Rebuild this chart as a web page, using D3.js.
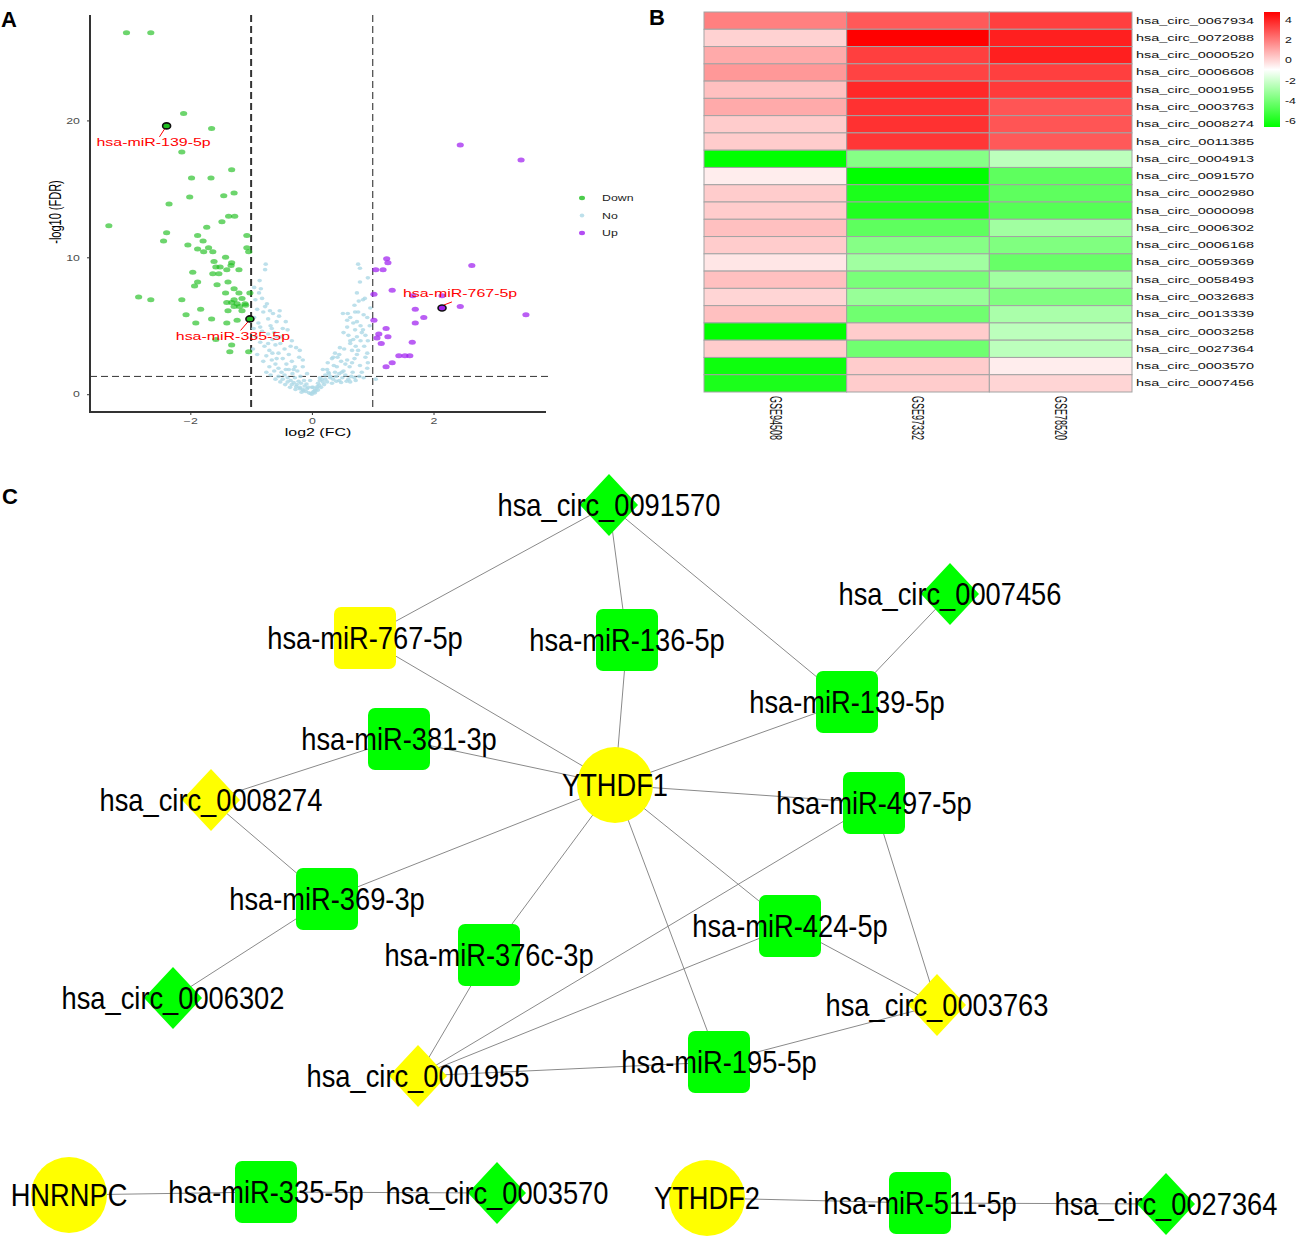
<!DOCTYPE html>
<html>
<head>
<meta charset="utf-8">
<title>Volcano, heatmap and ceRNA network</title>
<script src="https://d3js.org/d3.v7.min.js"></script>
<style>
body { margin: 0; background: #fff; }
svg text { font-family: "Liberation Sans", Arial, sans-serif; }
</style>
</head>
<body>
<div id="chart"></div>
<script>
// ---------- Panel A data: [log2FC, -log10 FDR] ----------
const downPts = [[-3.05,26.4],[-2.65,26.4],[-2.11,20.5],[-1.65,19.4],[-2.14,17.7],[-1.32,16.4],[-1.98,15.8],[-1.66,15.8],[-2.35,13.9],[-2.01,14.4],[-1.45,14.5],[-1.28,14.7],[-1.37,13.0],[-1.27,13.0],[-3.34,12.3],[-2.39,11.8],[-2.44,11.2],[-1.88,11.6],[-1.73,12.2],[-1.48,12.6],[-1.07,11.6],[-1.79,11.2],[-2.04,10.9],[-1.88,10.6],[-1.78,10.4],[-1.70,10.7],[-1.63,10.4],[-1.42,10.0],[-1.07,10.7],[-1.04,10.4],[-1.61,9.7],[-1.58,9.3],[-1.51,9.3],[-1.33,9.4],[-1.32,9.6],[-1.20,9.1],[-1.40,9.1],[-1.96,8.9],[-1.63,8.8],[-1.53,8.8],[-1.88,8.2],[-1.38,8.2],[-1.93,7.9],[-1.56,8.0],[-1.28,7.7],[-1.42,7.4],[-1.20,7.4],[-1.02,7.4],[-2.85,7.1],[-2.65,6.9],[-2.14,6.9],[-1.28,6.9],[-1.15,7.0],[-1.32,6.7],[-1.40,6.7],[-1.23,6.6],[-1.10,6.6],[-1.28,6.4],[-1.19,6.4],[-1.09,6.5],[-1.83,6.2],[-1.38,6.1],[-1.15,6.1],[-2.07,5.8],[-1.65,5.5],[-1.91,5.2],[-1.40,5.2],[-1.23,5.4],[-1.58,4.0],[-1.32,3.6],[-1.35,3.1],[-1.04,3.1]];
const upPts = [[2.44,18.2],[3.44,17.1],[1.23,9.9],[1.25,9.6],[1.05,9.1],[1.17,9.1],[2.63,9.4],[1.32,7.6],[1.02,7.3],[1.66,7.2],[2.14,7.2],[2.44,6.4],[3.52,5.8],[1.70,6.2],[1.84,5.6],[1.70,5.2],[1.02,5.4],[1.22,4.8],[1.10,4.4],[1.25,4.2],[1.07,4.1],[1.14,3.7],[1.65,3.8],[1.43,2.8],[1.53,2.8],[1.61,2.8],[1.32,2.3],[1.22,2.0]];
const noPts = [[-0.76,9.5],[-0.77,9.1],[-0.84,7.7],[-0.87,7.4],[-0.82,7.0],[-0.74,6.6],[-0.77,6.4],[-0.69,6.1],[-0.64,5.9],[-0.53,6.1],[-0.54,5.7],[-0.58,5.3],[-0.43,5.3],[-0.48,4.8],[-0.40,4.7],[-0.33,3.9],[-0.26,3.4],[-0.20,3.2],[-0.21,2.7],[-0.15,2.5],[-0.15,2.0],[-0.08,1.5],[-0.03,1.0],[0.00,0.5],[0.02,0.15],
  [-0.95,7.8],[-0.93,6.9],[-0.90,6.2],[-0.95,5.6],[-0.88,5.2],[-0.82,4.6],[-0.92,4.2],[-0.85,3.8],[-0.78,3.5],[-0.70,3.2],[-0.75,2.8],[-0.66,2.5],[-0.60,2.2],[-0.55,1.9],[-0.50,1.6],[-0.45,1.4],[-0.40,1.2],[-0.35,1.0],[-0.30,0.85],[-0.25,0.7],[-0.20,0.5],[-0.15,0.35],[-0.10,0.2],[-0.05,0.1],[-0.72,4.4],[-0.65,4.0],[-0.60,3.6],[-0.55,3.0],[-0.48,2.6],[-0.42,2.2],[-0.38,1.8],[-0.32,1.5],[-0.28,1.2],[-0.22,0.95],[-0.18,0.8],[-0.12,0.6],[-0.08,0.4],[-0.68,5.0],[-0.62,4.5],[-0.97,3.3],[-0.90,2.9],[-0.80,2.4],[-0.70,2.0],[-0.62,1.7],[-0.55,1.3],[-0.48,1.1],[-0.40,0.9],[-0.33,0.7],[-0.26,0.55],[-0.20,0.4],[-0.14,0.25],
  [-0.86,8.3],[-0.80,6.0],[-0.72,5.5],[-0.66,4.8],[-0.58,4.2],[-0.52,3.7],[-0.45,3.3],[-0.38,2.9],[-0.33,2.4],[-0.28,2.0],[-0.24,1.7],[-0.19,1.3],[-0.13,1.0],[-0.09,0.75],[-0.06,0.5],[-0.35,3.5],[-0.50,4.2],[-0.30,1.8],[-0.43,1.8],[-0.58,2.6],[-0.65,3.0],[-0.72,3.7],[-0.85,4.9],[-0.96,4.8],[-0.68,1.4],[-0.75,1.6],[-0.60,1.1],[-0.52,0.9],[-0.44,0.7],[-0.36,0.5],[-0.27,0.35],[-0.17,0.15],
  [0.76,9.5],[0.79,9.2],[0.74,7.4],[0.87,7.0],[0.71,6.0],[0.59,5.9],[0.58,5.4],[0.74,5.3],[0.84,4.7],[0.74,4.2],[0.63,3.9],[0.46,3.4],[0.38,3.0],[0.33,2.6],[0.26,2.3],[0.18,1.8],[0.13,1.2],[0.10,0.8],[0.05,0.3],[0.92,3.9],[0.91,3.0],[0.91,1.9],[0.82,1.6],[0.92,8.5],[0.79,8.2],[0.84,6.9],[0.51,5.9],[0.63,5.6],[0.76,6.0],[0.91,5.6],[0.58,4.9],[0.71,4.7],[0.82,4.5],[0.63,3.7],[0.76,3.2],[0.35,2.7],[0.58,2.5],[0.79,2.1],[0.92,2.3],[0.41,2.0],[0.25,1.8],[0.49,1.6],[0.67,1.6],[0.13,1.0],[0.30,1.2],[0.02,0.5],[1.05,1.1],
  [0.30,1.3],[0.35,1.1],[0.40,1.3],[0.45,1.0],[0.50,1.2],[0.55,1.4],[0.60,1.1],[0.25,0.9],[0.20,0.7],[0.15,0.5],[0.10,0.3],[0.05,0.1],[0.65,1.3],[0.70,1.2],[0.45,1.5],[0.38,1.6],[0.52,1.7],[0.28,1.5],[0.22,1.1],[0.18,0.9],[0.12,0.65],[0.08,0.45],[0.03,0.2],[-0.02,0.05],[0.00,0.0],[0.62,2.0],[0.55,2.2],[0.48,2.4],[0.42,2.7],[0.70,2.6],[0.66,3.2],[0.53,3.3],[0.60,4.3],[0.68,4.0],[0.80,5.0],[0.85,5.8],[0.70,6.5],[0.77,6.8],
  [0.33,0.8],[0.40,0.95],[0.48,0.85],[0.57,0.95],[0.63,0.9],[0.72,1.0],[0.78,1.3],[0.85,1.2],[0.88,2.7],[0.86,3.5],[0.80,3.9],[0.72,3.5],[0.66,2.3],[0.74,2.9],[0.88,4.3],[0.95,5.0],[0.96,6.3],[0.68,5.2],[0.52,4.5],[0.45,2.9],[0.36,2.1],[0.27,1.6],[0.22,1.4],[0.16,1.1],[0.09,0.55],[0.06,0.25]];
const hiNames = ["hsa-miR-139-5p", "hsa-miR-335-5p", "hsa-miR-767-5p"];
const hiFC = [-2.39, -1.02, 2.14];
const hiFDR = [19.6, 5.5, 6.3];
const hiGroup = ["Down", "Down", "Up"];
const groups = ["Down", "No", "Up"];
const xTicksA = [-2, 0, 2];
const yTicksA = [0, 10, 20];

// ---------- Panel B data ----------
const hmRows = ["hsa_circ_0067934","hsa_circ_0072088","hsa_circ_0000520","hsa_circ_0006608","hsa_circ_0001955","hsa_circ_0003763","hsa_circ_0008274","hsa_circ_0011385","hsa_circ_0004913","hsa_circ_0091570","hsa_circ_0002980","hsa_circ_0000098","hsa_circ_0006302","hsa_circ_0006168","hsa_circ_0059369","hsa_circ_0058493","hsa_circ_0032683","hsa_circ_0013339","hsa_circ_0003258","hsa_circ_0027364","hsa_circ_0003570","hsa_circ_0007456"];
const hmCols = ["GSE94508", "GSE97332", "GSE78520"];
const hmValues = [
  [1.95, 2.8, 3.4], [0.1, 4.8, 4.1], [1.0, 3.4, 4.1], [1.4, 3.3, 3.4],
  [0.5, 3.9, 3.5], [1.0, 3.7, 2.9], [0.25, 3.7, 2.9], [0.25, 3.6, 2.8],
  [-6.6, -3.6, -2.4], [-0.5, -6.6, -4.5], [0.25, -6.0, -4.5], [0.25, -5.9, -4.7],
  [0.5, -4.5, -3.0], [0.25, -3.6, -3.75], [-0.33, -3.0, -4.3], [0.5, -3.9, -3.0],
  [0.05, -3.2, -3.75], [0.5, -4.1, -2.8], [-6.6, 0.25, -2.4], [0.25, -4.1, -2.4],
  [-6.3, 0.25, -0.5], [-6.0, 0.25, 0.05]];
const legendTicks = [4, 2, 0, -2, -4, -6];

// ---------- Panel C data (Cytoscape style layout units) ----------
const netNames = ["hsa_circ_0091570","hsa-miR-767-5p","hsa-miR-136-5p","hsa_circ_0007456","hsa-miR-139-5p","hsa-miR-381-3p","YTHDF1","hsa_circ_0008274","hsa-miR-497-5p","hsa-miR-369-3p","hsa-miR-424-5p","hsa-miR-376c-3p","hsa_circ_0006302","hsa_circ_0003763","hsa-miR-195-5p","hsa_circ_0001955","HNRNPC","hsa-miR-335-5p","hsa_circ_0003570","YTHDF2","hsa-miR-511-5p","hsa_circ_0027364"];
const netKind = ["circ","mirna","mirna","circ","mirna","mirna","gene","circ","mirna","mirna","mirna","mirna","circ","circ","mirna","circ","gene","mirna","circ","gene","mirna","circ"];
const netUp = [0,1,0,0,0,0,1,1,0,0,0,0,0,1,0,1,1,0,0,1,0,0];
const netX = [609,365,627,950,847,399,615,211,874,327,790,489,173,937,719,418,69,266,497,707,920,1166];
const netY = [35,168,170,124,232,269,315,330,333,429,456,485,528,535,592,606,725,722,723,728,733,734];
const netLinks = [
  ["hsa_circ_0091570","hsa-miR-767-5p"],["hsa_circ_0091570","hsa-miR-136-5p"],["hsa_circ_0091570","hsa-miR-139-5p"],
  ["hsa_circ_0007456","hsa-miR-139-5p"],["hsa-miR-767-5p","YTHDF1"],["hsa-miR-136-5p","YTHDF1"],["hsa-miR-139-5p","YTHDF1"],
  ["hsa-miR-381-3p","YTHDF1"],["hsa-miR-381-3p","hsa_circ_0008274"],["hsa_circ_0008274","hsa-miR-369-3p"],
  ["YTHDF1","hsa-miR-497-5p"],["YTHDF1","hsa-miR-369-3p"],["hsa-miR-369-3p","hsa_circ_0006302"],["YTHDF1","hsa-miR-376c-3p"],
  ["YTHDF1","hsa-miR-424-5p"],["YTHDF1","hsa-miR-195-5p"],["hsa-miR-376c-3p","hsa_circ_0001955"],["hsa-miR-497-5p","hsa_circ_0001955"],
  ["hsa-miR-424-5p","hsa_circ_0001955"],["hsa-miR-497-5p","hsa_circ_0003763"],["hsa-miR-424-5p","hsa_circ_0003763"],
  ["hsa-miR-195-5p","hsa_circ_0003763"],["hsa-miR-195-5p","hsa_circ_0001955"],["HNRNPC","hsa-miR-335-5p"],
  ["hsa-miR-335-5p","hsa_circ_0003570"],["YTHDF2","hsa-miR-511-5p"],["hsa-miR-511-5p","hsa_circ_0027364"]];


const svg = d3.select("#chart").append("svg")
  .attr("width", 1300).attr("height", 1241)
  .style("background", "#fff");

// text squeezed/stretched along x, like the resized original figure
function sText(g, x, y, str, size, sx, anchor) {
  return g.append("text")
    .attr("transform", `translate(${x},${y}) scale(${sx},1)`)
    .attr("text-anchor", anchor || "start")
    .style("font-size", size + "px")
    .text(str);
}

// panel letters
[["A", 1, 27], ["B", 649, 25], ["C", 2, 504]].forEach(p => {
  svg.append("text").attr("x", p[1]).attr("y", p[2])
    .style("font-size", "22px").style("font-weight", "bold").text(p[0]);
});

// ================= Panel A : volcano =================
const gA = svg.append("g");
const xA = d3.scaleLinear().domain([-3.65, 3.85]).range([90, 546]);
const yA = d3.scaleLinear().domain([-1.3, 27.7]).range([412, 15]);
const colA = d3.scaleOrdinal().domain(groups).range(["#1fbf1f", "#add8e6", "#a020f0"]);
const SX = 1.45;

// threshold lines
gA.append("line").attr("x1", xA(-1)).attr("x2", xA(-1)).attr("y1", 15).attr("y2", 412)
  .attr("stroke", "#333").attr("stroke-width", 2).attr("stroke-dasharray", "7,4");
gA.append("line").attr("x1", xA(1)).attr("x2", xA(1)).attr("y1", 15).attr("y2", 412)
  .attr("stroke", "#444").attr("stroke-width", 1.2).attr("stroke-dasharray", "7,4");
gA.append("line").attr("x1", 90).attr("x2", 548).attr("y1", yA(1.3)).attr("y2", yA(1.3))
  .attr("stroke", "#333").attr("stroke-width", 1).attr("stroke-dasharray", "7,4");

gA.append("g").selectAll("ellipse").data(noPts).join("ellipse")
  .attr("cx", d => xA(d[0])).attr("cy", d => yA(d[1]))
  .attr("rx", 2.3).attr("ry", 1.8).attr("fill", colA("No")).attr("opacity", 0.8);
gA.append("g").selectAll("ellipse").data(downPts).join("ellipse")
  .attr("cx", d => xA(d[0])).attr("cy", d => yA(d[1]))
  .attr("rx", 3.6).attr("ry", 2.5).attr("fill", colA("Down")).attr("opacity", 0.65);
gA.append("g").selectAll("ellipse").data(upPts).join("ellipse")
  .attr("cx", d => xA(d[0])).attr("cy", d => yA(d[1]))
  .attr("rx", 3.6).attr("ry", 2.5).attr("fill", colA("Up")).attr("opacity", 0.72);

// highlighted miRNAs
const labOff = [[-13, 20], [-17, 21], [18, -11]];
hiNames.forEach((n, i) => {
  const px = xA(hiFC[i]), py = yA(hiFDR[i]);
  const o = labOff[i];
  gA.append("line").attr("x1", px + Math.sign(o[0]) * 2).attr("y1", py + Math.sign(o[1]) * 3)
    .attr("x2", px + o[0] * 0.55).attr("y2", py + o[1] * 0.55)
    .attr("stroke", "red").attr("stroke-width", 1);
  gA.append("ellipse").attr("cx", px).attr("cy", py).attr("rx", 4).attr("ry", 3)
    .attr("fill", colA(hiGroup[i])).attr("stroke", "#111").attr("stroke-width", 1.6);
  sText(gA, px + o[0], py + o[1], n, 11, SX, "middle").attr("fill", "red");
});

// axes
const yAxisA = gA.append("g").attr("transform", "translate(90,0)")
  .call(d3.axisLeft(yA).tickValues(yTicksA).tickSize(3));
const xAxisA = gA.append("g").attr("transform", "translate(0,412)")
  .call(d3.axisBottom(xA).tickValues(xTicksA).tickSize(3));
[yAxisA, xAxisA].forEach(a => {
  a.select(".domain").remove();
  a.selectAll(".tick line").attr("stroke", "#333");
  a.selectAll(".tick text").attr("fill", "#4d4d4d").style("font-size", "8.5px")
    .style("font-family", "Liberation Sans, Arial, sans-serif");
});
yAxisA.selectAll(".tick text").attr("x", -7).attr("transform", `scale(${SX},1)`);
xAxisA.selectAll(".tick text").attr("transform", `scale(${SX},1)`);
gA.append("line").attr("x1", 90).attr("x2", 90).attr("y1", 15).attr("y2", 413)
  .attr("stroke", "#333").attr("stroke-width", 2);
gA.append("line").attr("x1", 89).attr("x2", 546).attr("y1", 412).attr("y2", 412)
  .attr("stroke", "#333").attr("stroke-width", 1.8);

sText(gA, 318, 436, "log2 (FC)", 11, SX, "middle");
gA.append("text")
  .attr("transform", `translate(61,212) scale(${SX},1) rotate(-90)`)
  .attr("text-anchor", "middle").style("font-size", "11px").text("-log10 (FDR)");

// legend
groups.forEach((g, i) => {
  const ly = 198 + i * 17.5;
  gA.append("ellipse").attr("cx", 582).attr("cy", ly)
    .attr("rx", g === "No" ? 2.3 : 3).attr("ry", g === "No" ? 2 : 2.2)
    .attr("fill", colA(g)).attr("opacity", 0.8);
  sText(gA, 602, ly + 3, g, 8.5, SX, "start").attr("fill", "#222");
});

// ================= Panel B : heatmap =================
const gB = svg.append("g");
const xH = d3.scaleBand().domain(hmCols).range([704, 1132]);
const yH = d3.scaleBand().domain(hmRows).range([12, 392]);
const colH = d3.scaleLinear().domain([-6.6, -0.9, 4.8]).range(["#00ff00", "#ffffff", "#ff0000"]);

hmRows.forEach((r, i) => {
  hmCols.forEach((c, j) => {
    gB.append("rect").attr("x", xH(c)).attr("y", yH(r))
      .attr("width", xH.bandwidth()).attr("height", yH.bandwidth())
      .attr("fill", colH(hmValues[i][j])).attr("stroke", "#a3a3a3").attr("stroke-width", 1);
  });
  gB.append("text").attr("x", 1136).attr("y", yH(r) + yH.bandwidth() / 2 + 3)
    .attr("textLength", 118).attr("lengthAdjust", "spacingAndGlyphs")
    .style("font-size", "8.5px").attr("fill", "#111").text(r);
});
hmCols.forEach(c => {
  gB.append("text")
    .attr("transform", `translate(${xH(c) + xH.bandwidth() / 2},396) rotate(90) scale(1,1.7)`)
    .attr("dy", "0.35em").attr("textLength", 44).attr("lengthAdjust", "spacingAndGlyphs")
    .style("font-size", "9.5px").attr("fill", "#111").text(c);
});

// colour key
const yL = d3.scaleLinear().domain([-6.6, 4.8]).range([127, 12]);
const grad = svg.append("defs").append("linearGradient").attr("id", "hmgrad")
  .attr("x1", 0).attr("x2", 0).attr("y1", 1).attr("y2", 0);
d3.range(0, 1.001, 0.05).forEach(t => {
  const v = -6.6 + t * 11.4;
  grad.append("stop").attr("offset", t).attr("stop-color", colH(v));
});
gB.append("rect").attr("x", 1264).attr("y", yL(4.8)).attr("width", 16)
  .attr("height", yL(-6.6) - yL(4.8)).attr("fill", "url(#hmgrad)");
legendTicks.forEach(t => {
  sText(gB, 1285, yL(t) + 3, String(t), 8.5, SX, "start").attr("fill", "#111");
});

// ================= Panel C : network =================
const gC = svg.append("g");
const xN = d3.scaleLinear().domain([0, 1300]).range([0, 1300]);
const yN = d3.scaleLinear().domain([0, 770]).range([470, 1240]);
const idx = new Map(netNames.map((n, i) => [n, i]));
const fillN = i => netUp[i] ? "#ffff00" : "#00ff00";

gC.append("g").selectAll("line").data(netLinks).join("line")
  .attr("x1", d => xN(netX[idx.get(d[0])])).attr("y1", d => yN(netY[idx.get(d[0])]))
  .attr("x2", d => xN(netX[idx.get(d[1])])).attr("y2", d => yN(netY[idx.get(d[1])]))
  .attr("stroke", "#8a8a8a").attr("stroke-width", 1);

const nodeG = gC.append("g").selectAll("g").data(netNames).join("g")
  .attr("transform", (d, i) => `translate(${xN(netX[i])},${yN(netY[i])})`);
nodeG.each(function (d, i) {
  const g = d3.select(this);
  if (netKind[i] === "gene") {
    g.append("circle").attr("r", 38).attr("fill", fillN(i));
  } else if (netKind[i] === "mirna") {
    g.append("rect").attr("x", -31).attr("y", -31).attr("width", 62).attr("height", 62)
      .attr("rx", 7).attr("fill", fillN(i));
  } else {
    g.append("path").attr("d", "M0,-31L29,0L0,31L-29,0Z").attr("fill", fillN(i));
  }
  g.append("text").attr("transform", "scale(0.88,1)").attr("text-anchor", "middle")
    .attr("dy", "0.36em").style("font-size", "31px").attr("fill", "#000").text(d);
});
</script>
</body>
</html>
